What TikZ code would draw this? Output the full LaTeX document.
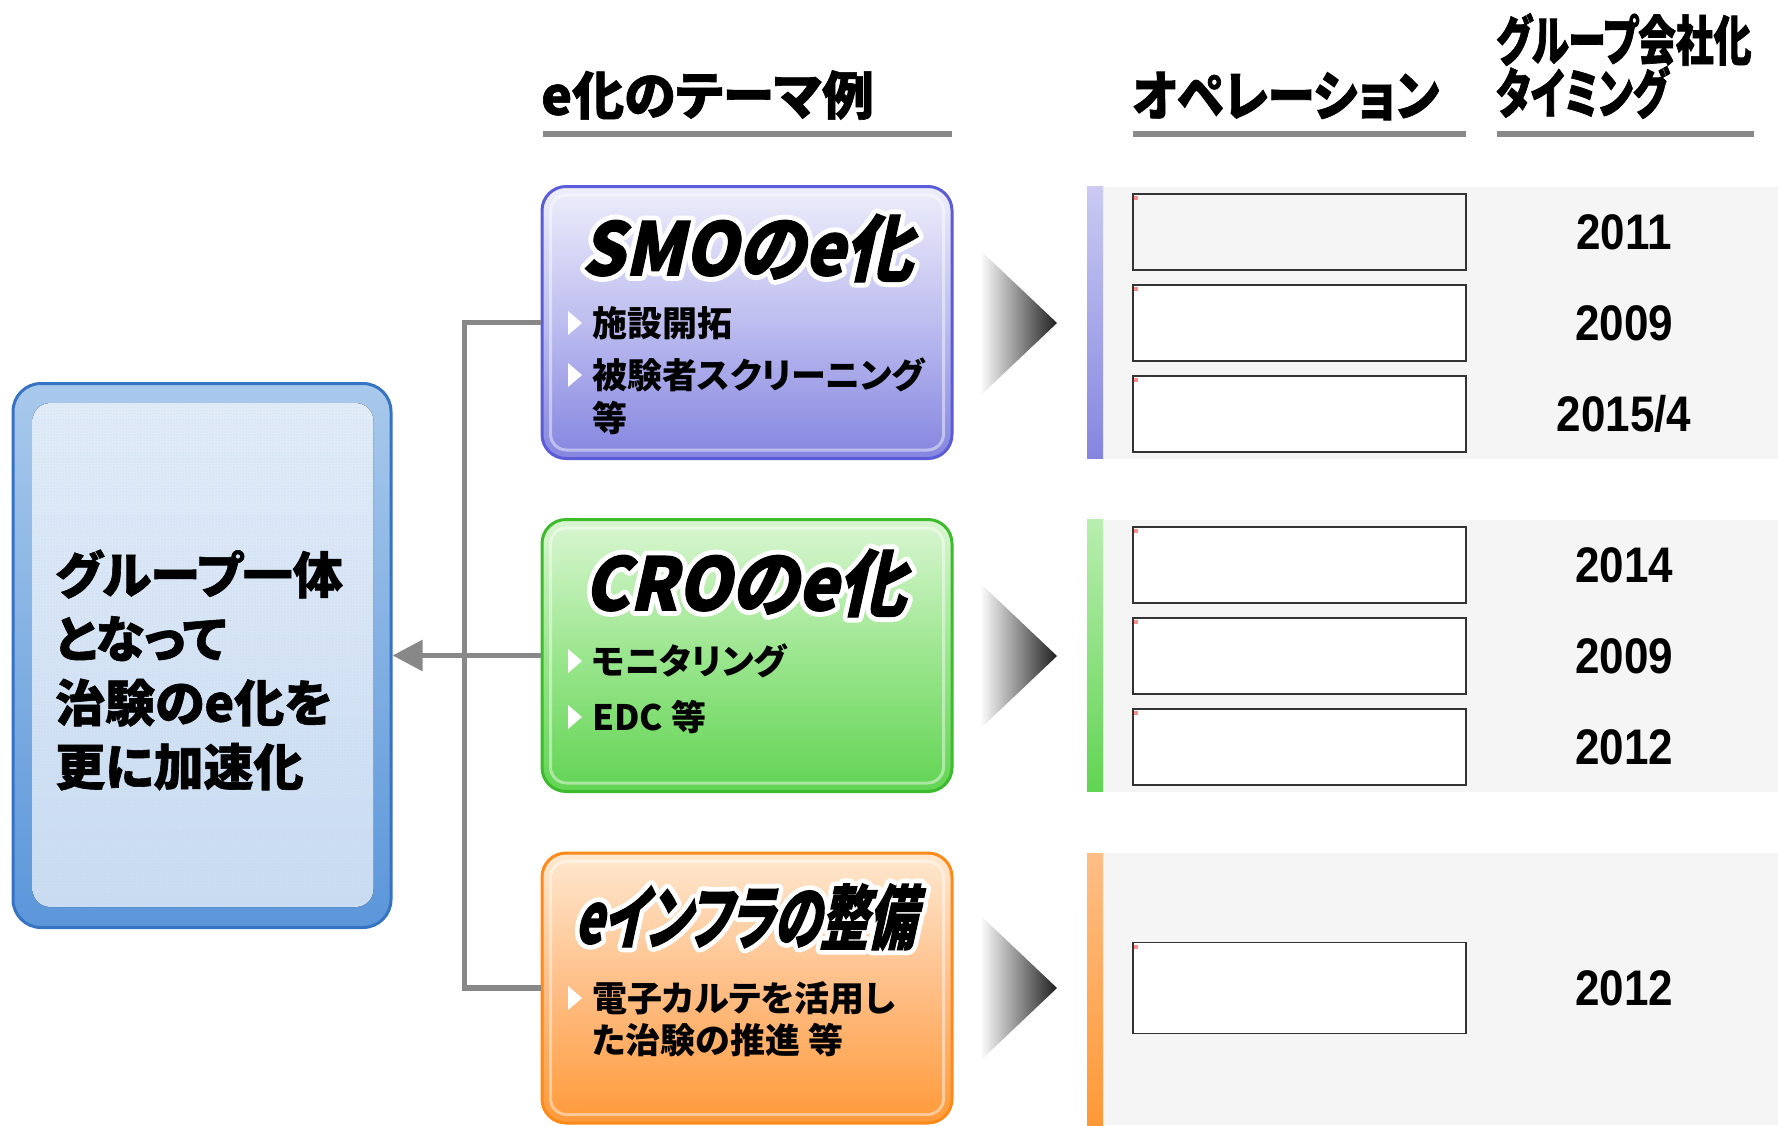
\documentclass[tikz,border=0pt]{standalone}
\usepackage{fontspec}
\usetikzlibrary{arrows.meta,patterns,calc}
\setmainfont{Liberation Sans}
\newfontfamily\jp{Noto Sans CJK JP}[RawFeature=+palt]
\newfontfamily\jphead{Noto Sans CJK JP}[RawFeature=+palt,FakeBold=1.2]
\newfontfamily\jpheadc{Noto Sans CJK JP}[RawFeature=+palt,FakeBold=1.2,FakeStretch=0.88]
\newfontfamily\jpcond{Noto Sans CJK JP}[RawFeature=+palt,FakeBold=1.2,FakeStretch=0.70]
\newfontfamily\jptitle{Noto Sans CJK JP}[RawFeature=+palt,FakeSlant=0.22,FakeBold=1.5,FakeStretch=0.93]
\newfontfamily\jptitleW{Noto Sans CJK JP}[RawFeature=+palt,FakeSlant=0.22,FakeBold=15,FakeStretch=0.93]
\newfontfamily\jptitlecond{Noto Sans CJK JP}[RawFeature=+palt,FakeSlant=0.22,FakeBold=1.5,FakeStretch=0.68]
\newfontfamily\jptitlecondW{Noto Sans CJK JP}[RawFeature=+palt,FakeSlant=0.22,FakeBold=15,FakeStretch=0.68]
\newfontfamily\yrfont{Liberation Sans}[FakeStretch=0.88]
\newcommand\roundjoin{\special{pdf:literal direct 1 j 1 J}}
\definecolor{lineg}{HTML}{888888}
\definecolor{panelg}{HTML}{F5F5F5}
\definecolor{smoB}{HTML}{5C5CD8}
\definecolor{smoT}{HTML}{EEEEFB}
\definecolor{smoM}{HTML}{BDBDF0}
\definecolor{smoD}{HTML}{8585E0}
\definecolor{croB}{HTML}{3CBB2C}
\definecolor{croT}{HTML}{DAF6D2}
\definecolor{croM}{HTML}{9BE68E}
\definecolor{croD}{HTML}{62D453}
\definecolor{orgB}{HTML}{FF8A1A}
\definecolor{orgT}{HTML}{FFE8D0}
\definecolor{orgM}{HTML}{FFBE86}
\definecolor{orgD}{HTML}{FF9A3A}
\definecolor{lbB}{HTML}{3673C2}
\definecolor{lbT}{HTML}{A9C9EC}
\definecolor{lbD}{HTML}{5B96DA}
\definecolor{lbIT}{HTML}{E2ECF8}
\definecolor{lbID}{HTML}{C9DCF2}
\definecolor{lbDot}{HTML}{BFD4EE}
\begin{document}
\begin{tikzpicture}[x=1pt,y=-1pt,
  tbox/.style={rectangle, rounded corners=24pt, minimum width=410pt, minimum height=272pt, line width=3pt},
  ttl/.style={font={\jptitle\bfseries\fontsize{73}{75}\selectfont}, inner sep=0pt},
  ttlW/.style={font={\jptitleW\bfseries\fontsize{73}{75}\selectfont}, inner sep=0pt, text=white},
  ttlc/.style={font={\jptitlecond\bfseries\fontsize{70}{72}\selectfont}, inner sep=0pt},
  ttlcW/.style={font={\jptitlecondW\bfseries\fontsize{70}{72}\selectfont}, inner sep=0pt, text=white},
  btxt/.style={font={\jp\bfseries\fontsize{35}{42}\selectfont}, anchor=west, inner sep=0pt},
  head/.style={anchor=west, inner sep=0pt},
  uline/.style={lineg, line width=6pt},
  conn/.style={lineg, line width=5.5pt},
  ibox/.style={rectangle, draw=black!80, line width=1.8pt, minimum width=333pt, minimum height=76pt, fill=white},
  yr/.style={font={\yrfont\bfseries\fontsize{50}{52}\selectfont}, inner sep=0pt},
  bul/.pic={\fill[white] (-7,-12) -- (7,0) -- (-7,12) -- cycle;},
  gtri/.style={left color=white, right color=black!88, shading angle=90}
]
\useasboundingbox (0,0) rectangle (1778,1125);
\fill[white] (0,0) rectangle (1778,1125);

% ---------- headers ----------
\node[head, font={\jphead\bfseries\fontsize{52}{56}\selectfont}] (h1) at (541,95) {e化のテーマ例};
\node[head, font={\jpheadc\bfseries\fontsize{54}{56}\selectfont}] (h2) at (1132,96) {オペレーション};
\node[head, font={\jpcond\bfseries\fontsize{54}{53}\selectfont}, align=left] (h3) at (1496,66) {グループ会社化\\タイミング};
\draw[uline] (543,134) -- (952,134);
\draw[uline] (1133,134) -- (1466,134);
\draw[uline] (1497,134) -- (1754,134);

% ---------- left box ----------
\node[rectangle, rounded corners=28pt, line width=3pt, draw=lbB, top color=lbT, bottom color=lbD, minimum width=378pt, minimum height=544pt] (left) at (202,655.5) {};
\fill[rounded corners=18pt, top color=lbIT, bottom color=lbID] ($(left.south west)+(21,-22)$) rectangle ($(left.north east)+(-19,21)$);
\fill[rounded corners=18pt, pattern=dots, pattern color=lbDot] ($(left.south west)+(21,-22)$) rectangle ($(left.north east)+(-19,21)$);
\node[font={\jphead\bfseries\fontsize{50}{64}\selectfont}, anchor=west, align=left, inner sep=0pt] (ltxt) at (55,670) {グループ一体\\となって\\治験のe化を\\更に加速化};

% ---------- theme boxes ----------
\node[tbox, draw=smoB, top color=smoT, bottom color=smoD, middle color=smoM] (smo) at (747,322.5) {};
\node[tbox, draw=croB, top color=croT, bottom color=croD, middle color=croM] (cro) at (747,655.5) {};
\node[tbox, draw=orgB, top color=orgT, bottom color=orgD, middle color=orgM, minimum height=270pt] (eif) at (747,988) {};
\foreach \b in {smo,cro,eif}{
  \draw[white, draw opacity=0.45, line width=3pt, rounded corners=16pt] ($(\b.south west)+(10,-10)$) rectangle ($(\b.north east)+(-10,10)$);
}

\node[ttlW] (smoTitleBg) at (747,248) {\roundjoin SMOのe化};
\node[ttl] (smoTitle) at (747,248) {SMOのe化};
\node[ttlW] (croTitleBg) at (745,583) {\roundjoin CROのe化};
\node[ttl] (croTitle) at (745,583) {CROのe化};
\node[ttlcW] (eifTitleBg) at (745,917) {\roundjoin eインフラの整備};
\node[ttlc] (eifTitle) at (745,917) {eインフラの整備};

\pic at (575,323) {bul};
\node[btxt] (s1) at (592,323) {施設開拓};
\pic at (575,375) {bul};
\node[btxt] (s2) at (592,375) {被験者スクリーニング};
\node[btxt] (s3) at (592,418) {等};
\pic at (575,661) {bul};
\node[btxt] (c1) at (592,661) {モニタリング};
\pic at (575,717) {bul};
\node[btxt] (c2) at (592,717) {EDC 等};
\pic at (575,998) {bul};
\node[btxt] (e1) at (592,998) {電子カルテを活用し};
\node[btxt] (e2) at (592,1040) {た治験の推進 等};

% ---------- connectors ----------
\draw[conn] (smo.west) -- ++(-76,0) |- (eif.west);
\draw[conn, -{Triangle[length=30pt,width=30pt]}] (cro.west) -- (left.east);

% ---------- gradient arrows ----------
\shade[gtri] (980,250) -- (1057,323) -- (980,396) -- cycle;
\shade[gtri] (980,583) -- (1057,656) -- (980,729) -- cycle;
\shade[gtri] (980,915) -- (1057,988) -- (980,1061) -- cycle;

% ---------- right panels ----------
\fill[panelg] (1103,186.5) rectangle (1778,458.5);
\fill[panelg] (1103,519.5) rectangle (1778,791.5);
\fill[panelg] (1103,853) rectangle (1778,1125);
\shade[top color=smoM!80!white, bottom color=smoD] (1087,186.5) rectangle (1103,458.5);
\shade[top color=croM!70!white, bottom color=croD] (1087,519.5) rectangle (1103,791.5);
\shade[top color=orgM, bottom color=orgD!95!orange] (1087,853) rectangle (1103,1125);

\node[ibox, fill=panelg] (o1) at (1299.5,232) {};
\node[ibox] (o2) at (1299.5,323) {};
\node[ibox] (o3) at (1299.5,414) {};
\node[ibox] (o4) at (1299.5,565) {};
\node[ibox] (o5) at (1299.5,656) {};
\node[ibox] (o6) at (1299.5,747) {};
\node[ibox, minimum height=91pt] (o7) at (1299.5,988) {};
\foreach \o in {o1,o2,o3,o4,o5,o6,o7}{
  \fill[red!45] ($(\o.north west)+(2,3)$) rectangle ++(4,4);
}

\node[yr] (y1) at (1624,232) {2011};
\node[yr] (y2) at (1624,323) {2009};
\node[yr] (y3) at (1624,414) {2015/4};
\node[yr] (y4) at (1624,565) {2014};
\node[yr] (y5) at (1624,656) {2009};
\node[yr] (y6) at (1624,747) {2012};
\node[yr] (y7) at (1624,988) {2012};
\end{tikzpicture}
\end{document}
